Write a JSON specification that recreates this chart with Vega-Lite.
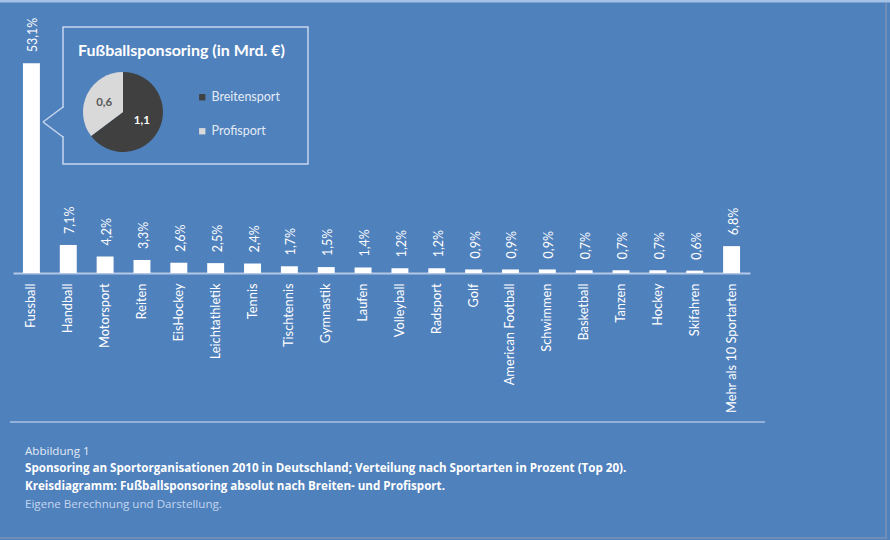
{
  "$schema": "https://vega.github.io/schema/vega-lite/v6.json",
  "autosize": {"type": "none"},
  "width": 737,
  "height": 237,
  "padding": {"left": 13, "top": 36, "right": 140, "bottom": 267},
  "background": "#4f81bd",
  "config": {
    "view": {"stroke": null},
    "font": "Lato",
    "legend": {
      "orient": "none",
      "legendX": 183,
      "legendY": 55,
      "symbolType": "square",
      "symbolSize": 40,
      "symbolStrokeWidth": 0,
      "labelColor": "#e4ebf5",
      "labelFontSize": 12.5,
      "labelFont": "Lato",
      "labelOffset": 3,
      "rowPadding": 21,
      "padding": 0
    }
  },
  "data": {
    "values": [
      {"Sportart": "Fussball", "Anteil": 53.1},
      {"Sportart": "Handball", "Anteil": 7.1},
      {"Sportart": "Motorsport", "Anteil": 4.2},
      {"Sportart": "Reiten", "Anteil": 3.3},
      {"Sportart": "EisHockey", "Anteil": 2.6},
      {"Sportart": "Leichtathletik", "Anteil": 2.5},
      {"Sportart": "Tennis", "Anteil": 2.4},
      {"Sportart": "Tischtennis", "Anteil": 1.7},
      {"Sportart": "Gymnastik", "Anteil": 1.5},
      {"Sportart": "Laufen", "Anteil": 1.4},
      {"Sportart": "Volleyball", "Anteil": 1.2},
      {"Sportart": "Radsport", "Anteil": 1.2},
      {"Sportart": "Golf", "Anteil": 0.9},
      {"Sportart": "American Football", "Anteil": 0.9},
      {"Sportart": "Schwimmen", "Anteil": 0.9},
      {"Sportart": "Basketball", "Anteil": 0.7},
      {"Sportart": "Tanzen", "Anteil": 0.7},
      {"Sportart": "Hockey", "Anteil": 0.7},
      {"Sportart": "Skifahren", "Anteil": 0.6},
      {"Sportart": "Mehr als 10 Sportarten", "Anteil": 6.8}
    ]
  },
  "layer": [
    {
      "data": {"values": [{}]},
      "mark": {"type": "rule", "color": "#a3c0e6", "strokeWidth": 3},
      "encoding": {"x": {"value": -13}, "x2": {"value": 877}, "y": {"value": -35}, "y2": {"value": -35}}
    },
    {
      "data": {"values": [{}]},
      "mark": {"type": "rule", "color": "#6f8db5", "strokeWidth": 2},
      "encoding": {"x": {"value": 873}, "x2": {"value": 873}, "y": {"value": -33}, "y2": {"value": 502}}
    },
    {
      "data": {"values": [{}]},
      "mark": {"type": "rule", "color": "#6f8db5", "strokeWidth": 2},
      "encoding": {"x": {"value": -13}, "x2": {"value": 874}, "y": {"value": 502}, "y2": {"value": 502}}
    },
    {
      "mark": {"type": "bar", "color": "white"},
      "encoding": {
        "x": {
          "field": "Sportart", "type": "nominal", "sort": null,
          "scale": {"paddingInner": 0.54, "paddingOuter": 0.27},
          "axis": {
            "title": null, "ticks": false, "labelAngle": -90, "labelPadding": 10,
            "labelColor": "white", "labelFontSize": 12.8, "labelFont": "Lato",
            "domainColor": "#b3c8e6", "domainWidth": 2
          }
        },
        "y": {
          "field": "Anteil", "type": "quantitative",
          "scale": {"domain": [0, 60], "nice": false},
          "axis": null
        }
      }
    },
    {
      "transform": [{"calculate": "replace(format(datum.Anteil, '.1f'), '.', ',') + '%'", "as": "Label"}],
      "mark": {"type": "text", "angle": 270, "align": "left", "baseline": "middle", "dx": 11, "dy": 2, "fill": "white", "fontSize": 12.5},
      "encoding": {
        "x": {"field": "Sportart", "type": "nominal", "sort": null},
        "y": {"field": "Anteil", "type": "quantitative"},
        "text": {"field": "Label"}
      }
    },
    {
      "data": {"values": [{}]},
      "mark": {"type": "rect", "fill": null, "stroke": "#c6d6ee", "strokeWidth": 1.5},
      "encoding": {"x": {"value": 50}, "x2": {"value": 295}, "y": {"value": -9}, "y2": {"value": 128}}
    },
    {
      "data": {"values": [{}]},
      "mark": {"type": "rule", "color": "#4f81bd", "strokeWidth": 4},
      "encoding": {"x": {"value": 50}, "x2": {"value": 50}, "y": {"value": 72}, "y2": {"value": 100}}
    },
    {
      "data": {"values": [{}]},
      "mark": {"type": "rule", "color": "#c6d6ee", "strokeWidth": 1.5},
      "encoding": {"x": {"value": 50}, "y": {"value": 71}, "x2": {"value": 30}, "y2": {"value": 86}}
    },
    {
      "data": {"values": [{}]},
      "mark": {"type": "rule", "color": "#c6d6ee", "strokeWidth": 1.5},
      "encoding": {"x": {"value": 30}, "y": {"value": 86}, "x2": {"value": 50}, "y2": {"value": 101}}
    },
    {
      "data": {"values": [{}]},
      "mark": {"type": "text", "align": "left", "baseline": "middle", "text": "Fußballsponsoring (in Mrd. €)", "fontSize": 16, "fontWeight": "bold", "fill": "white"},
      "encoding": {"x": {"value": 65}, "y": {"value": 15}}
    },
    {
      "data": {"values": [{"Art": "Breitensport", "Mrd": 1.1}, {"Art": "Profisport", "Mrd": 0.6}]},
      "mark": {"type": "arc", "outerRadius": 40},
      "encoding": {
        "x": {"value": 110},
        "y": {"value": 76},
        "theta": {"field": "Mrd", "type": "quantitative", "stack": true},
        "order": {"field": "Art", "sort": "ascending"},
        "color": {"field": "Art", "type": "nominal", "scale": {"domain": ["Breitensport", "Profisport"], "range": ["#404040", "#d9d9d9"]}, "legend": {"title": null}}
      }
    },
    {
      "data": {"values": [{"Art": "Breitensport", "Mrd": 1.1}, {"Art": "Profisport", "Mrd": 0.6}]},
      "transform": [{"calculate": "replace(format(datum.Mrd, '.1f'), '.', ',')", "as": "Label"}],
      "mark": {"type": "text", "radius": 21, "fontSize": 11.5, "fontWeight": "bold"},
      "encoding": {
        "x": {"value": 110},
        "y": {"value": 76},
        "theta": {"field": "Mrd", "type": "quantitative", "stack": true},
        "order": {"field": "Art", "sort": "ascending"},
        "text": {"field": "Label"},
        "fill": {"condition": {"test": "datum.Art === 'Breitensport'", "value": "white"}, "value": "#595959"}
      }
    },
    {
      "data": {"values": [{}]},
      "mark": {"type": "rule", "color": "#a9c2e4", "strokeWidth": 1.5},
      "encoding": {"x": {"value": -3}, "x2": {"value": 752}, "y": {"value": 386}, "y2": {"value": 386}}
    },
    {
      "data": {"values": [{}]},
      "mark": {"type": "text", "align": "left", "baseline": "middle", "text": "Abbildung 1", "font": "Open Sans", "fontSize": 11.6, "fill": "#e3eaf5"},
      "encoding": {"x": {"value": 12}, "y": {"value": 416}}
    },
    {
      "data": {"values": [{}]},
      "mark": {"type": "text", "align": "left", "baseline": "middle", "lineHeight": 17.5, "text": ["Sponsoring an Sportorganisationen 2010 in Deutschland; Verteilung nach Sportarten in Prozent (Top 20).", "Kreisdiagramm: Fußballsponsoring absolut nach Breiten- und Profisport."], "font": "Open Sans", "fontSize": 11.6, "fontWeight": "bold", "fill": "white"},
      "encoding": {"x": {"value": 12}, "y": {"value": 433}}
    },
    {
      "data": {"values": [{}]},
      "mark": {"type": "text", "align": "left", "baseline": "middle", "text": "Eigene Berechnung und Darstellung.", "font": "Open Sans", "fontSize": 11.6, "fill": "#c4d5ee"},
      "encoding": {"x": {"value": 12}, "y": {"value": 469}}
    }
  ]
}
